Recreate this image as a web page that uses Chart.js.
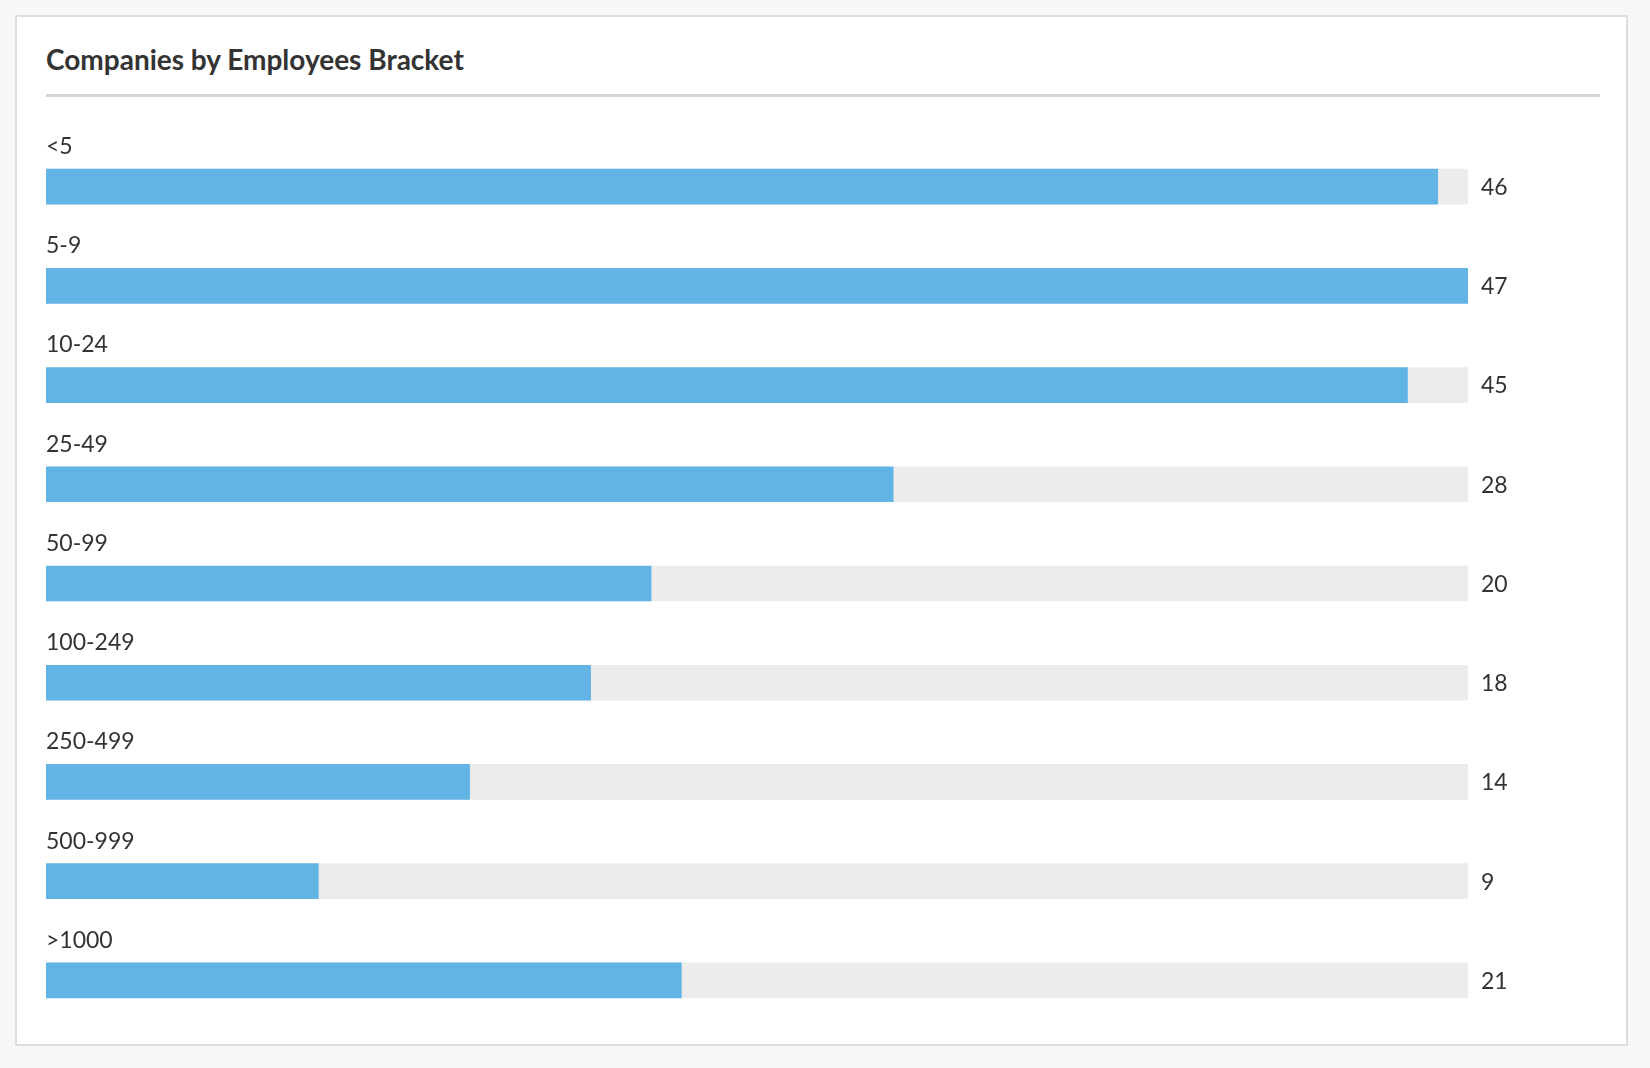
<!DOCTYPE html>
<html>
<head>
<meta charset="utf-8">
<script src="https://cdn.jsdelivr.net/npm/chart.js@4"></script>
<style>
  body { margin: 0; background: #f7f7f7; font-family: Lato, sans-serif; }
  .card { position: absolute; left: 15px; top: 15px; width: 1613px; height: 1031px; background: #fff; border: 2px solid #ddd; box-sizing: border-box; }
  h2 { position: absolute; left: 46px; top: 42px; margin: 0; font-size: 28px; font-weight: 700; color: #333; }
  .rule { position: absolute; left: 46px; top: 94px; width: 1554px; height: 3px; background: #d6d6d6; }
  #wrap { position: absolute; left: 0; top: 0; width: 1650px; height: 1068px; }
</style>
</head>
<body>
<div class="card"></div>
<h2>Companies by Employees Bracket</h2>
<div class="rule"></div>
<div id="wrap"><canvas id="chart"></canvas></div>
<script>
const brackets = ['<5', '5-9', '10-24', '25-49', '50-99', '100-249', '250-499', '500-999', '>1000'];
const companies = [46, 47, 45, 28, 20, 18, 14, 9, 21];
const maxValue = 47;

// Draws bracket names above each bar and counts to the right of the track
const labelPlugin = {
  id: 'rowLabels',
  afterDatasetsDraw(chart) {
    const ctx = chart.ctx;
    const meta = chart.getDatasetMeta(1);
    const area = chart.chartArea;
    ctx.save();
    ctx.font = "23px Lato, sans-serif";
    ctx.fillStyle = '#333';
    ctx.textBaseline = 'middle';
    meta.data.forEach((bar, i) => {
      ctx.textAlign = 'left';
      ctx.fillText(brackets[i], area.left, bar.y - 40);
      ctx.fillText(String(companies[i]), area.right + 13, bar.y + 1);
    });
    ctx.restore();
  }
};

new Chart(document.getElementById('chart'), {
  type: 'bar',
  data: {
    labels: brackets,
    datasets: [
      { data: brackets.map(() => maxValue), backgroundColor: '#ececec', barThickness: 35, grouped: false, order: 2 },
      { data: companies, backgroundColor: '#62b4e4', barThickness: 35, grouped: false, order: 1 }
    ]
  },
  options: {
    indexAxis: 'y',
    responsive: true,
    maintainAspectRatio: false,
    animation: false,
    layout: { padding: { left: 46, right: 182, top: 137, bottom: 38 } },
    plugins: { legend: { display: false }, tooltip: { enabled: false } },
    scales: {
      x: { display: false, min: 0, max: maxValue },
      y: { display: false }
    }
  },
  plugins: [labelPlugin]
});
</script>
</body>
</html>
